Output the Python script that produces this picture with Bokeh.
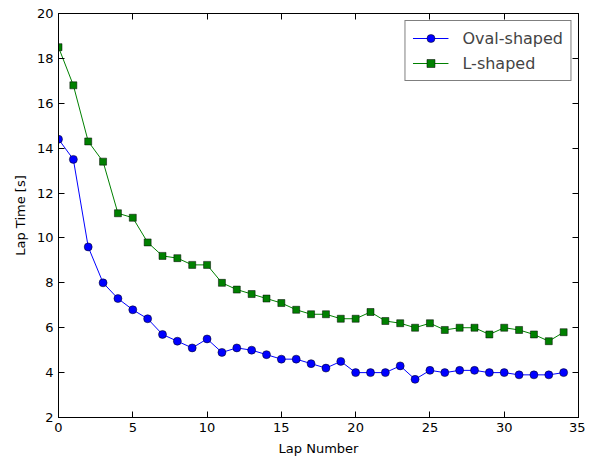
from bokeh.plotting import figure
from bokeh.models import LinearAxis, FixedTicker, Range1d, Legend, LegendItem
from bokeh.embed import file_html
from bokeh.resources import INLINE

laps = list(range(35))
oval = [14.4, 13.5, 9.6, 8.0, 7.3, 6.8, 6.4, 5.7, 5.4, 5.1, 5.5, 4.9, 5.1, 5.0, 4.8, 4.6, 4.6, 4.4,
        4.2, 4.5, 4.0, 4.0, 4.0, 4.3, 3.7, 4.1, 4.0, 4.1, 4.1, 4.0, 4.0, 3.9, 3.9, 3.9, 4.0]
lshape = [18.5, 16.8, 14.3, 13.4, 11.1, 10.9, 9.8, 9.2, 9.1, 8.8, 8.8, 8.0, 7.7, 7.5, 7.3, 7.1, 6.8, 6.6,
          6.6, 6.4, 6.4, 6.7, 6.3, 6.2, 6.0, 6.2, 5.9, 6.0, 6.0, 5.7, 6.0, 5.9, 5.7, 5.4, 5.8]
xticks = [0, 5, 10, 15, 20, 25, 30, 35]
yticks = [2, 4, 6, 8, 10, 12, 14, 16, 18, 20]

FONT = "DejaVu Sans"

p = figure(width=585, height=458, output_backend="svg", toolbar_location=None,
           x_range=Range1d(0, 35), y_range=Range1d(2, 20),
           min_border_left=58, min_border_right=7, min_border_top=13, min_border_bottom=39)
p.xgrid.visible = False
p.ygrid.visible = False
p.outline_line_color = "black"
p.outline_line_width = 1
p.background_fill_color = "white"
p.border_fill_color = "white"

def style_axis(ax, ticks, show_labels=True):
    ax.ticker = FixedTicker(ticks=ticks)
    ax.major_tick_in = 6
    ax.major_tick_out = 0
    ax.minor_tick_in = 0
    ax.minor_tick_out = 0
    ax.axis_line_color = "black"
    ax.major_tick_line_color = "black"
    ax.major_label_text_font = FONT
    ax.major_label_text_font_size = "13px"
    ax.major_label_text_color = "black"
    ax.major_label_standoff = 5
    if not show_labels:
        ax.major_label_text_font_size = "0px"
        ax.major_label_text_alpha = 0

style_axis(p.xaxis[0], xticks)
style_axis(p.yaxis[0], yticks)
p.xaxis[0].axis_label = "Lap Number"
p.yaxis[0].axis_label = "Lap Time [s]"
for ax in (p.xaxis[0], p.yaxis[0]):
    ax.axis_label_text_font = FONT
    ax.axis_label_text_font_size = "13px"
    ax.axis_label_text_font_style = "normal"
    ax.axis_label_text_color = "black"
    ax.axis_label_standoff = 6

top = LinearAxis()
style_axis(top, xticks, False)
p.add_layout(top, "above")
right = LinearAxis()
style_axis(right, yticks, False)
p.add_layout(right, "right")

l1 = p.line(laps, oval, line_color="#0000ff", line_width=1)
m1 = p.scatter(laps, oval, marker="circle", size=8, fill_color="#0000ff", line_color="black", line_width=0.5)
l2 = p.line(laps, lshape, line_color="#008000", line_width=1)
m2 = p.scatter(laps, lshape, marker="square", size=7, fill_color="#008000", line_color="black", line_width=0.5)

legend = Legend(items=[LegendItem(label="Oval-shaped", renderers=[l1, m1]),
                       LegendItem(label="L-shaped", renderers=[l2, m2])],
                location="top_right")
legend.label_text_font = FONT
legend.label_text_font_size = "16px"
legend.border_line_color = "black"
legend.border_line_width = 1
legend.glyph_width = 36
legend.margin = 7
legend.padding = 7
legend.spacing = 5
legend.label_standoff = 14
p.add_layout(legend)

open("out.html", "w").write(file_html(p, INLINE))
